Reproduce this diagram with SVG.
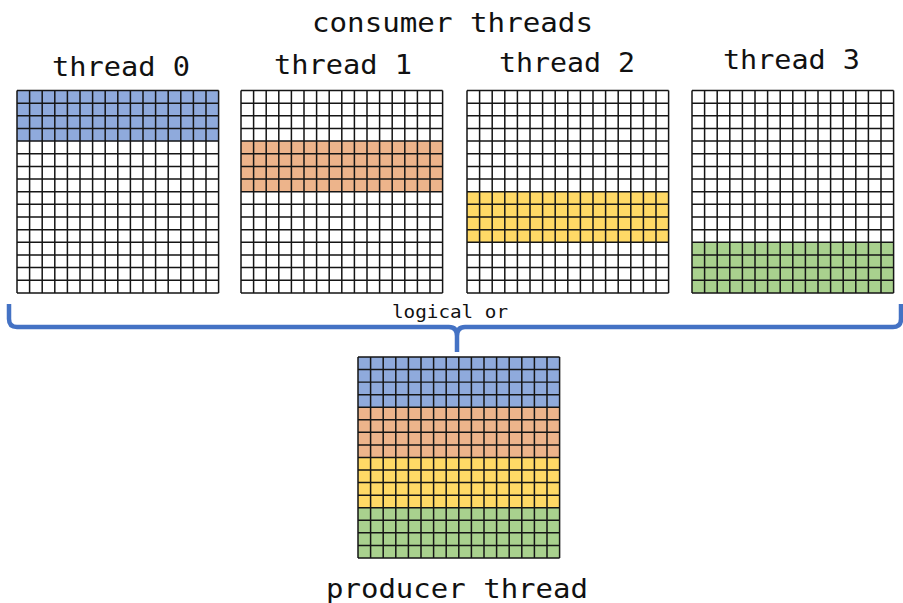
<svg xmlns="http://www.w3.org/2000/svg" xmlns:xlink="http://www.w3.org/1999/xlink" width="903" height="603" viewBox="0 0 903 603">
<style>
.lbl{font-family:"DejaVu Sans Mono","Liberation Mono",monospace;font-size:27px;fill:#111}
.small{font-family:"DejaVu Sans Mono","Liberation Mono",monospace;font-size:18px;fill:#111}
.grid{fill:none;stroke:#151515;stroke-width:1.5}
.blue{fill:#8FAADC}.orange{fill:#EDB48B}.yellow{fill:#FFD966}.green{fill:#A9D18E}
.brace{fill:none;stroke:#4472C4;stroke-width:4.5;stroke-linecap:butt;stroke-linejoin:round}
</style>
<defs>
<path id="grid" class="grid" d="M0 0V202.4M12.6 0V202.4M25.2 0V202.4M37.8 0V202.4M50.4 0V202.4M63 0V202.4M75.6 0V202.4M88.2 0V202.4M100.8 0V202.4M113.4 0V202.4M126 0V202.4M138.6 0V202.4M151.2 0V202.4M163.8 0V202.4M176.4 0V202.4M189 0V202.4M201.6 0V202.4M0 0H201.6M0 12.65H201.6M0 25.3H201.6M0 37.95H201.6M0 50.6H201.6M0 63.25H201.6M0 75.9H201.6M0 88.55H201.6M0 101.2H201.6M0 113.85H201.6M0 126.5H201.6M0 139.15H201.6M0 151.8H201.6M0 164.45H201.6M0 177.1H201.6M0 189.75H201.6M0 202.4H201.6"/>
</defs>
<rect width="903" height="603" fill="#fff"/>
<text id="title" class="lbl" x="312" y="32" textLength="281" lengthAdjust="spacingAndGlyphs">consumer threads</text>

<g id="thread0">
<text class="lbl" x="52" y="76" textLength="138" lengthAdjust="spacingAndGlyphs">thread 0</text>
<g transform="translate(17 90.5)">
<rect class="blue" x="0" y="0" width="201.6" height="50.6"/>
<use xlink:href="#grid"/>
</g>
</g>

<g id="thread1">
<text class="lbl" x="274" y="74" textLength="138" lengthAdjust="spacingAndGlyphs">thread 1</text>
<g transform="translate(241 90.5)">
<rect class="orange" x="0" y="50.6" width="201.6" height="50.6"/>
<use xlink:href="#grid"/>
</g>
</g>

<g id="thread2">
<text class="lbl" x="499" y="72" textLength="136" lengthAdjust="spacingAndGlyphs">thread 2</text>
<g transform="translate(467 90.5)">
<rect class="yellow" x="0" y="101.2" width="201.6" height="50.6"/>
<use xlink:href="#grid"/>
</g>
</g>

<g id="thread3">
<text class="lbl" x="723" y="69" textLength="137" lengthAdjust="spacingAndGlyphs">thread 3</text>
<g transform="translate(692 90.5)">
<rect class="green" x="0" y="151.8" width="201.6" height="50.6"/>
<use xlink:href="#grid"/>
</g>
</g>

<g id="connectors">
<path class="brace" d="M9 304V319Q9 327 17 327H449Q457 327 457 336V352M457 336Q457 327 465 327H893Q901 327 901 319V304"/>
<text class="small" x="392" y="318" textLength="116" lengthAdjust="spacingAndGlyphs">logical or</text>
</g>

<g id="producer">
<g transform="translate(358 357) scale(1 0.993)">
<rect class="blue" x="0" y="0" width="201.6" height="50.6"/>
<rect class="orange" x="0" y="50.6" width="201.6" height="50.6"/>
<rect class="yellow" x="0" y="101.2" width="201.6" height="50.6"/>
<rect class="green" x="0" y="151.8" width="201.6" height="50.6"/>
<use xlink:href="#grid"/>
</g>
<text class="lbl" x="326" y="598" textLength="262" lengthAdjust="spacingAndGlyphs">producer thread</text>
</g>
</svg>
